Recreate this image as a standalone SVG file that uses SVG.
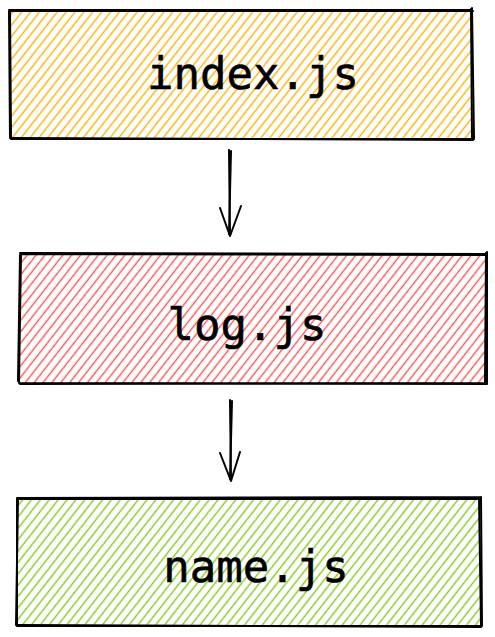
<svg xmlns="http://www.w3.org/2000/svg" width="495" height="637" viewBox="0 0 495 637">
<style>
.box{fill:none;stroke:#000;stroke-width:2;stroke-linecap:round;stroke-linejoin:round}
.lbl{font-family:"DejaVu Sans Mono",monospace;font-size:44px;fill:#000;text-anchor:middle;stroke:#000;stroke-width:0.6}
.arr{fill:none;stroke:#000;stroke-width:2;stroke-linecap:round;stroke-linejoin:round}
</style>
<defs>
<pattern id="hy" width="7" height="7" patternUnits="userSpaceOnUse" patternTransform="rotate(38)">
<line x1="3.5" y1="0" x2="3.5" y2="7" stroke="#fab005" stroke-width="1.4"/>
</pattern>
<pattern id="hr" width="7" height="7" patternUnits="userSpaceOnUse" patternTransform="rotate(38)">
<line x1="3.5" y1="0" x2="3.5" y2="7" stroke="#fa5252" stroke-width="1.4"/>
</pattern>
<pattern id="hg" width="7" height="7" patternUnits="userSpaceOnUse" patternTransform="rotate(38)">
<line x1="3.5" y1="0" x2="3.5" y2="7" stroke="#82c91e" stroke-width="1.4"/>
</pattern>
</defs>
<g id="index">
<rect x="10" y="10" width="463" height="129" fill="url(#hy)"/>
<path class="box" d="M9 10 L472 10 M472 8 L474 139 M474 139 L11 139 M10 138 L9 11"/>
<path class="box" d="M10 11 L473 11 M471 9 L472 138 M12 138 L473 140 M11 137 L10 10" stroke-width="1"/>
<text class="lbl" x="253" y="89">index.js</text>
</g>
<g id="log">
<rect x="20" y="253" width="467" height="130" fill="url(#hr)"/>
<path class="box" d="M21 254 L487 255 M487 252 L487 384 M487 384 L19 383 M19 382 L21 254"/>
<path class="box" d="M20 253 L486 254 M486 253 L485 383 M20 384 L486 383 M18 381 L20 255" stroke-width="1"/>
<text class="lbl" x="247" y="340">log.js</text>
</g>
<g id="name">
<rect x="17" y="497" width="465" height="129" fill="url(#hg)"/>
<path class="box" d="M18 498 L481 497 M481 497 L482 626 M482 626 L17 626 M16 625 L18 498"/>
<path class="box" d="M18 499 L480 499 M479 498 L481 625 M18 625 L481 627 M17 624 L17 498" stroke-width="1"/>
<text class="lbl" x="256" y="582">name.js</text>
</g>
<g id="connectors">
<path class="arr" d="M229 150 L230 236 M220 208 L230 236 M241 206 L230 236"/>
<path class="arr" d="M231 151 L229 234" stroke-width="1"/>
<path class="arr" d="M230 400 L231 481 M220 453 L231 481 M240 452 L231 481"/>
<path class="arr" d="M232 401 L230 479" stroke-width="1"/>
</g>
</svg>
